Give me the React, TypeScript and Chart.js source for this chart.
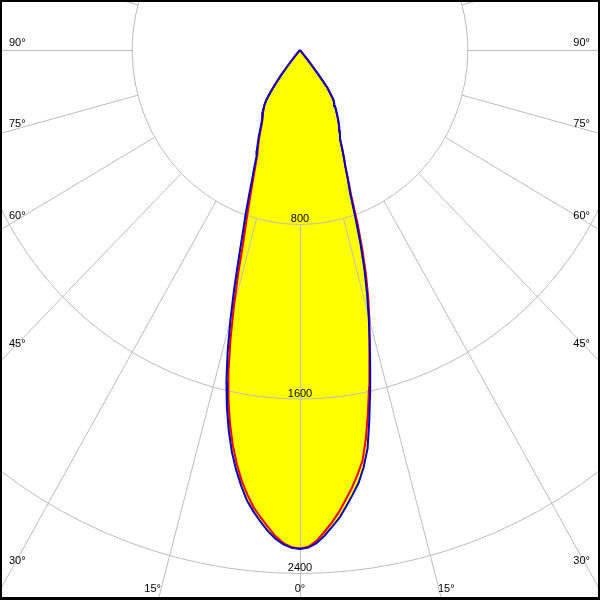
import React, { useEffect, useRef } from "react";
import { Chart, registerables } from "chart.js";

Chart.register(...registerables);

// polar angles (degrees from nadir)
const GAMMA = [
  0, 1, 2, 3, 4, 5, 6, 7, 8, 9, 10, 11, 12, 13, 14, 15, 16, 17, 18, 19, 20,
  21, 22, 23, 24, 25, 26, 27, 28, 29, 30, 31, 32, 33, 34, 35, 36, 37, 38, 39, 40,
  41, 42, 90, 135, 180,
];
// C-plane 1 (blue, filled) - left and right halves, cd
const BLUE_LEFT = [
  2288, 2283, 2268, 2244, 2210, 2170, 2127, 2080, 2017, 1948, 1871,
  1779, 1676, 1559, 1426, 1282, 1138, 999, 884, 795, 711,
  638, 584, 531, 505, 478, 452, 425, 399, 377, 362,
  347, 333, 318, 303, 280, 240, 195, 145, 90, 40,
  10, 0, 0, 0, 0,
];
const BLUE_RIGHT = [
  2288, 2282, 2263, 2230, 2192, 2154, 2105, 2055, 2005, 1938, 1855,
  1731, 1607, 1487, 1374, 1265, 1158, 1050, 932, 808, 699,
  638, 577, 535, 493, 452, 435, 416, 398, 379, 360,
  342, 323, 306, 291, 276, 245, 217, 143, 60, 15,
  0, 0, 0, 0, 0,
];
// C-plane 2 (red)
const RED_LEFT = [
  2286, 2280, 2262, 2233, 2192, 2151, 2109, 2055, 1995, 1923, 1842,
  1748, 1641, 1518, 1371, 1218, 1072, 927, 831, 745, 674,
  615, 562, 520, 493, 467, 441, 415, 390, 372, 358,
  344, 330, 317, 303, 280, 240, 195, 145, 90, 40,
  10, 0, 0, 0, 0,
];
const RED_RIGHT = [
  2286, 2278, 2252, 2213, 2172, 2127, 2075, 2024, 1967, 1906, 1808,
  1696, 1582, 1470, 1370, 1277, 1180, 1075, 962, 845, 720,
  645, 580, 535, 493, 452, 435, 416, 398, 379, 360,
  342, 323, 306, 291, 276, 245, 217, 143, 60, 15,
  0, 0, 0, 0, 0,
];

const RINGS = [800, 1600, 2400];
const RING_LABELS = ["800", "1600", "2400"];
const SPOKES = [-180, -165, -150, -135, -120, -105, -90, -75, -60, -45, -30, -15, 0, 15, 30, 45, 60, 75, 90, 105, 120, 135, 150, 165];
const SIDE_ANGLE_LABELS = ["90°", "75°", "60°", "45°", "30°"];
const BOTTOM_ANGLE_LABELS = ["15°", "0°", "15°"];

const X_RANGE = 1430;
const Y_MAX = 229.3;
const Y_MIN = -2521.8;

function toPoints(left: number[], right: number[]) {
  const pts: { x: number; y: number }[] = [];
  for (let i = GAMMA.length - 1; i >= 0; i--) {
    const a = (GAMMA[i] * Math.PI) / 180;
    pts.push({ x: -left[i] * Math.sin(a), y: -left[i] * Math.cos(a) });
  }
  for (let i = 1; i < GAMMA.length; i++) {
    const a = (GAMMA[i] * Math.PI) / 180;
    pts.push({ x: right[i] * Math.sin(a), y: -right[i] * Math.cos(a) });
  }
  return pts;
}

const FONT = '11px "Liberation Sans", Arial, sans-serif';

const gridPlugin = {
  id: "polarGrid",
  beforeDatasetsDraw(chart: any) {
    const { ctx, chartArea } = chart;
    const xs = chart.scales.x;
    const ys = chart.scales.y;
    const cx = xs.getPixelForValue(0);
    const cy = ys.getPixelForValue(0);
    ctx.save();
    ctx.beginPath();
    ctx.rect(chartArea.left, chartArea.top, chartArea.right - chartArea.left, chartArea.bottom - chartArea.top);
    ctx.clip();
    ctx.strokeStyle = "#bdbdbd";
    ctx.lineWidth = 1;
    for (const r of RINGS) {
      const rx = xs.getPixelForValue(r) - cx;
      const ry = cy - ys.getPixelForValue(r);
      ctx.beginPath();
      ctx.ellipse(cx, cy, rx, ry, 0, 0, Math.PI * 2);
      ctx.stroke();
    }
    const r0 = RINGS[0];
    for (const s of SPOKES) {
      const a = (s * Math.PI) / 180;
      const x1 = xs.getPixelForValue(r0 * Math.sin(a));
      const y1 = ys.getPixelForValue(-r0 * Math.cos(a));
      const x2 = xs.getPixelForValue(20000 * Math.sin(a));
      const y2 = ys.getPixelForValue(-20000 * Math.cos(a));
      ctx.beginPath();
      if (s === 0 || Math.abs(s) === 180) {
        ctx.moveTo(Math.round(x1) + 0.5, y1);
        ctx.lineTo(Math.round(x1) + 0.5, y2);
      } else if (Math.abs(s) === 90) {
        ctx.moveTo(x1, Math.round(y1) + 0.5);
        ctx.lineTo(x2, Math.round(y1) + 0.5);
      } else {
        ctx.moveTo(x1, y1);
        ctx.lineTo(x2, y2);
      }
      ctx.stroke();
    }
    ctx.restore();
  },
  afterDatasetsDraw(chart: any) {
    const { ctx, width, height } = chart;
    const xs = chart.scales.x;
    const ys = chart.scales.y;
    const cx = xs.getPixelForValue(0);
    ctx.save();
    ctx.font = FONT;
    ctx.fillStyle = "#000";
    ctx.textBaseline = "alphabetic";
    ctx.textAlign = "center";
    RINGS.forEach((r, i) => {
      const yb = ys.getPixelForValue(-r);
      ctx.fillText(RING_LABELS[i], cx, yb - 2);
    });
    const sideBottoms = [46, 127, 219, 347, 564];
    SIDE_ANGLE_LABELS.forEach((t, i) => {
      ctx.textAlign = "left";
      ctx.fillText(t, 9, sideBottoms[i]);
      ctx.textAlign = "right";
      ctx.fillText(t, width - 10, sideBottoms[i]);
    });
    ctx.textAlign = "right";
    ctx.fillText(BOTTOM_ANGLE_LABELS[0], 161, 592);
    ctx.textAlign = "center";
    ctx.fillText(BOTTOM_ANGLE_LABELS[1], cx, 592);
    ctx.textAlign = "left";
    ctx.fillText(BOTTOM_ANGLE_LABELS[2], 438, 592);
    // frame
    ctx.fillStyle = "#000";
    ctx.fillRect(0, 0, width, 2);
    ctx.fillRect(0, 0, 2, height);
    ctx.fillRect(width - 2, 0, 2, height);
    ctx.fillRect(0, height - 3, width, 3);
    ctx.restore();
  },
};

export default function App() {
  const ref = useRef<HTMLCanvasElement | null>(null);
  useEffect(() => {
    if (!ref.current) return;
    const chart = new Chart(ref.current, {
      type: "scatter",
      data: {
        datasets: [
          {
            label: "C0-C180",
            data: toPoints(BLUE_LEFT, BLUE_RIGHT),
            showLine: true,
            borderColor: "#0000c8",
            borderWidth: 2,
            backgroundColor: "#ffff00",
            fill: "shape",
            pointRadius: 0,
            tension: 0,
            order: 0,
          } as any,
          {
            label: "C90-C270",
            data: toPoints(RED_LEFT, RED_RIGHT),
            showLine: true,
            borderColor: "#ee0000",
            borderWidth: 2,
            fill: false,
            pointRadius: 0,
            tension: 0,
            order: 1,
          } as any,
        ],
      },
      options: {
        animation: false,
        responsive: false,
        devicePixelRatio: 1,
        layout: { padding: 0 },
        scales: {
          x: { type: "linear", min: -X_RANGE, max: X_RANGE, display: false },
          y: { type: "linear", min: Y_MIN, max: Y_MAX, display: false },
        },
        plugins: {
          legend: { display: false },
          tooltip: { enabled: false },
          filler: { drawTime: "beforeDatasetsDraw" },
        } as any,
      },
      plugins: [gridPlugin],
    });
    return () => chart.destroy();
  }, []);
  return (
    <div style={{ position: "absolute", left: 0, top: 0, width: 600, height: 600, background: "#fff" }}>
      <canvas ref={ref} width={600} height={600} />
    </div>
  );
}
